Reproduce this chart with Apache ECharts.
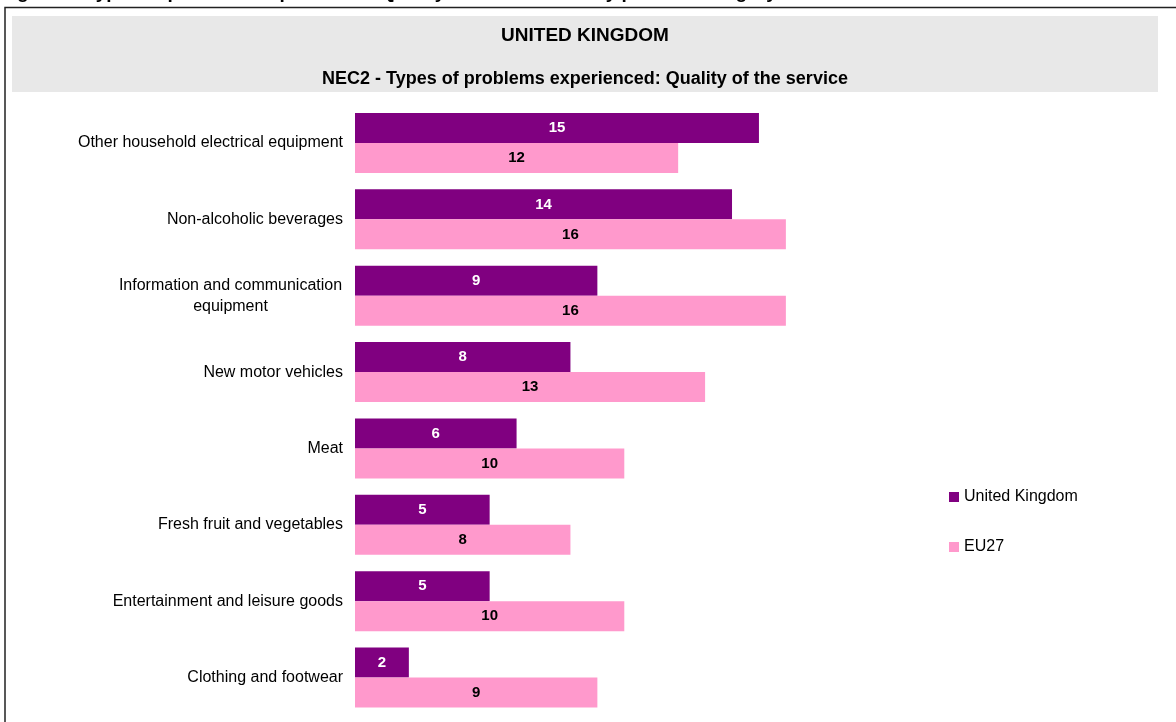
<!DOCTYPE html>
<html>
<head>
<meta charset="utf-8">
<script src="https://cdn.jsdelivr.net/npm/echarts@6/dist/echarts.min.js"></script>
<style>
html,body{margin:0;padding:0;background:#fff;}
#c{width:1176px;height:722px;}
</style>
</head>
<body>
<div id="c"></div>
<script>
var categories = [
  'Other household electrical equipment',
  'Non-alcoholic beverages',
  'Information and communication equipment',
  'New motor vehicles',
  'Meat',
  'Fresh fruit and vegetables',
  'Entertainment and leisure goods',
  'Clothing and footwear'
];
var ukValues = [15, 14, 9, 8, 6, 5, 5, 2];
var eu27Values = [12, 16, 16, 13, 10, 8, 10, 9];
var seriesNames = ['United Kingdom', 'EU27'];
var chartTitle = 'UNITED KINGDOM';
var chartSubtitle = 'NEC2 - Types of problems experienced: Quality of the service';
var figureTitle = 'Figure 6: Types of problems experienced: Quality of the service – by product category';

var FONT = '"Liberation Sans", Arial, sans-serif';
var chart = echarts.init(document.getElementById('c'), null, {renderer: 'canvas'});

function labelFmt(v) {
  if (v === 'Information and communication equipment') {
    return '{c|Information and communication}\n{c|equipment}';
  }
  return v;
}

var option = {
  animation: false,
  backgroundColor: '#ffffff',
  textStyle: {fontFamily: FONT},
  graphic: [
    {type: 'text', left: 0, top: -17, silent: true,
     style: {text: figureTitle, font: 'bold 19px ' + FONT, fill: '#000'}},
    {type: 'rect', shape: {x: 5, y: 7.5, width: 1180, height: 800}, silent: true,
     style: {fill: 'none', stroke: '#222', lineWidth: 1.5}},
    {type: 'rect', shape: {x: 12, y: 16, width: 1146, height: 76}, silent: true, z: -1,
     style: {fill: '#e8e8e8'}}
  ],
  title: [
    {text: chartTitle, left: 580, top: 21, textAlign: 'center',
     textStyle: {fontFamily: FONT, fontSize: 19, fontWeight: 'bold', color: '#000'}},
    {text: chartSubtitle, left: 580, top: 65, textAlign: 'center',
     textStyle: {fontFamily: FONT, fontSize: 18, fontWeight: 'bold', color: '#000'}}
  ],
  legend: {
    orient: 'vertical',
    left: 944,
    top: 484,
    itemWidth: 10,
    itemHeight: 10,
    itemGap: 34,
    itemTextGap: 5,
    icon: 'rect',
    data: seriesNames,
    textStyle: {fontFamily: FONT, fontSize: 16, color: '#000'}
  },
  grid: {left: 355, top: 104.8, width: 26.93 * 20, height: 611},
  xAxis: {
    type: 'value', min: 0, max: 20, show: false,
    splitLine: {show: false}
  },
  yAxis: {
    type: 'category', data: categories, inverse: true,
    axisLine: {show: false}, axisTick: {show: false},
    axisLabel: {
      fontFamily: FONT, fontSize: 16, color: '#000', margin: 12,
      formatter: labelFmt, lineHeight: 21,
      rich: {c: {width: 225, align: 'center', fontFamily: FONT, fontSize: 16, color: '#000', lineHeight: 21}}
    }
  },
  series: [
    {
      name: seriesNames[0], type: 'bar', data: ukValues,
      barWidth: 30, barGap: '0%',
      itemStyle: {color: '#800080'},
      label: {show: true, position: 'inside', color: '#fff', fontWeight: 'bold', fontSize: 15, fontFamily: FONT}
    },
    {
      name: seriesNames[1], type: 'bar', data: eu27Values,
      barWidth: 30, barGap: '0%',
      itemStyle: {color: '#ff99cc'},
      label: {show: true, position: 'inside', color: '#000', fontWeight: 'bold', fontSize: 15, fontFamily: FONT}
    }
  ]
};
chart.setOption(option);
</script>
</body>
</html>
